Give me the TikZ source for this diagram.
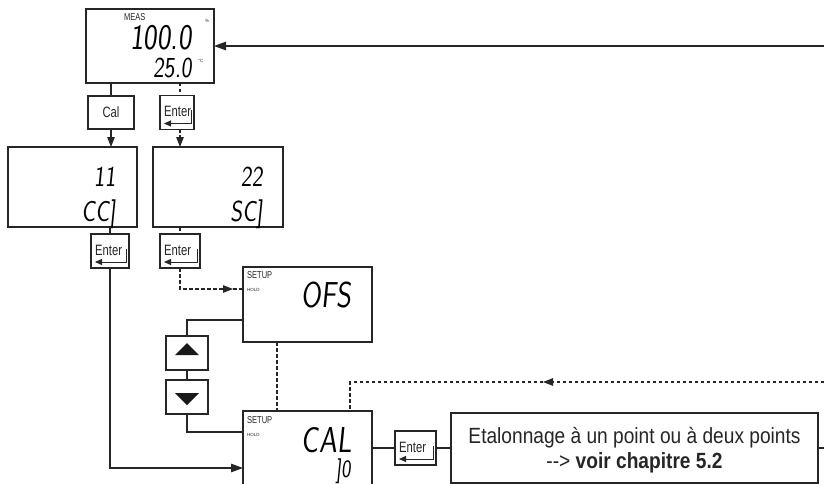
\documentclass[tikz,border=0pt]{standalone}
\usepackage{fontspec}
\setmainfont{Liberation Sans}
\newfontfamily\lcd[FakeSlant=0.1,FakeStretch=0.8]{Latin Modern Sans}
\newfontfamily\keyf[FakeStretch=0.75]{Liberation Sans}
\newfontfamily\boxf[FakeStretch=0.87]{Liberation Sans}
\usetikzlibrary{arrows.meta}
\newcommand\enterkey[4]{%
  \node[box, minimum width=#4pt, minimum height=34pt] (#1) at (#2,#3) {};
  \node[keyfont, anchor=base west] (#1t) at ([shift={(4,21)}]#1.north west) {Enter};
  \draw[line width=1pt, draw=black!85, -{Triangle[length=7pt,width=6pt]}]
    ([shift={(-3,15)}]#1.north east) -- ([shift={(-3,-6)}]#1.south east) -- ([shift={(4,-6)}]#1.south west);
}
\begin{document}
\begin{tikzpicture}[x=1pt,y=-1pt,
  ln/.style={draw=black!85, line width=1.1pt},
  dsh/.style={ln, dash pattern=on 3.5pt off 2.5pt},
  box/.style={ln, fill=white, inner sep=0pt, outer sep=0pt, rectangle},
  tip/.style={-{Triangle[length=12pt,width=8.5pt]}},
  stip/.style={-{Triangle[length=10pt,width=7.5pt]}},
  keyfont/.style={font=\keyf\fontsize{15}{15}\selectfont, inner sep=0pt, text=black!85},
  lcdbig/.style={font=\lcd\fontsize{36}{36}\selectfont, inner sep=0pt, anchor=base east, text=black},
  lcdmid/.style={font=\lcd\fontsize{29}{29}\selectfont, inner sep=0pt, anchor=base east, text=black},
  lcdsm/.style={font=\lcd\fontsize{25}{25}\selectfont, inner sep=0pt, anchor=base east, text=black},
  small/.style={font=\keyf\fontsize{10}{10}\selectfont, inner sep=0pt, anchor=base west, text=black!85},
  tiny/.style={font=\fontsize{4.5}{5}\selectfont, inner sep=0pt, anchor=base west, text=black!85},
]
\useasboundingbox (0,0) rectangle (824,484);
\fill[white] (0,0) rectangle (824,484);

% ---------- MEAS display ----------
\node[box, minimum width=128pt, minimum height=74pt] (meas) at (150,46) {};
\node[small] (measl) at (124,20.5) {MEAS};
\node[lcdbig] (measv) at (192,50) {100.0};
\node[lcdmid] (meast) at (192,78) {25.0};
\node[tiny] (pct) at (205,23) {\%};
\node[tiny] (degc) at (198,63) {°C};

% ---------- row 1 keys ----------
\node[box, minimum width=46pt, minimum height=33pt] (cal) at (111,112.5) {};
\node[keyfont] (calt) at (cal) {Cal};
\enterkey{en1}{177}{112.5}{34}

% ---------- displays 11 / 22 ----------
\node[box, minimum width=129pt, minimum height=80pt] (b11) at (72.5,187) {};
\node[lcdmid] (b11a) at (116,186) {11};
\node[lcdmid] (b11b) at (116,221) {CC]};
\node[box, minimum width=130pt, minimum height=80pt] (b22) at (218,187) {};
\node[lcdmid] (b22a) at (263,186) {22};
\node[lcdmid] (b22b) at (263,221) {SC]};

% ---------- row 2 keys ----------
\enterkey{en2l}{110}{251}{38}
\enterkey{en2r}{180}{251}{40}

% ---------- OFS display ----------
\node[box, minimum width=129pt, minimum height=75pt] (ofs) at (307.5,304.5) {};
\node[small] (ofss) at (247,278) {SETUP};
\node[tiny] (ofsh) at (247,291) {HOLD};
\node[lcdbig] (ofsv) at (352,307) {OFS};

% ---------- up / down ----------
\node[box, minimum width=42pt, minimum height=34pt] (up) at (187,353) {};
\fill[black!90] (175,355) -- (199,355) -- (187,343) -- cycle;
\node[box, minimum width=42pt, minimum height=34pt] (down) at (187,397) {};
\fill[black!90] (175,393) -- (199,393) -- (187,405) -- cycle;

% ---------- CAL display ----------
\node[box, minimum width=129pt, minimum height=80pt] (caldisp) at (307.5,451) {};
\node[small] (cals) at (247,423) {SETUP};
\node[tiny] (calh) at (247,436) {HOLD};
\node[lcdbig] (calv) at (352,452) {CAL};
\node[lcdsm] (calw) at (351,477) {]0};

% ---------- Enter + text box ----------
\enterkey{en3}{415.5}{448}{41}
\node[box, minimum width=367pt, minimum height=70pt] (txt) at (634.5,448) {};
\node[font=\boxf\fontsize{22}{22}\selectfont, text=black!85, inner sep=0pt, anchor=base] (txt1)
  at (634.5,443) {Etalonnage à un point ou à deux points};
\node[font=\boxf\fontsize{22}{22}\selectfont, text=black!85, inner sep=0pt, anchor=base] (txt2)
  at (634.5,468) {{-}{-}> \textbf{voir chapitre 5.2}};

% ---------- coordinates ----------
\coordinate (tr) at (824,46);
\coordinate (tr2) at (824,448);
\coordinate (ofsin) at (243,289);
\coordinate (ofsmid) at (233,289);
\coordinate (calin) at (243,468);
\coordinate (ofsl) at (243,320);
\coordinate (calupl) at (243,432);
\coordinate (x277) at (277,0);
\coordinate (x350) at (350,0);
\coordinate (x180) at (180,0);
\coordinate (rr) at (824,382);
\coordinate (rmid) at (543,382);

% ---------- connectors ----------
\draw[ln,tip] (tr) -- (meas.east);
\draw[ln] (meas.south -| cal.north) -- (cal.north);
\draw[ln,stip] (cal.south) -- (cal.south |- b11.north);
\draw[dsh] (meas.south -| x180) -- (en1.north -| x180);
\draw[dsh,stip] (en1.south -| x180) -- (b22.north -| x180);
\draw[ln] (b11.south -| en2l.north) -- (en2l.north);
\draw[dsh] (b22.south -| en2r.north) -- (en2r.north);
\draw[dsh,stip] (en2r.south) |- (ofsmid);
\draw[dsh] (ofsmid) -- (ofsin);
\draw[ln,tip] (en2l.south) |- (calin);
\draw[ln] (ofsl) -| (up.north);
\draw[ln] (up.south) -- (down.north);
\draw[ln] (down.south) |- (calupl);
\draw[dsh] (ofs.south -| x277) -- (caldisp.north -| x277);
\draw[dsh,stip] (rr) -- (rmid);
\draw[dsh] (rmid) -| (caldisp.north -| x350);
\draw[ln] (caldisp.east |- en3.west) -- (en3.west);
\draw[ln] (en3.east) -- (txt.west);
\draw[ln] (txt.east) -- (tr2);
\end{tikzpicture}
\end{document}
